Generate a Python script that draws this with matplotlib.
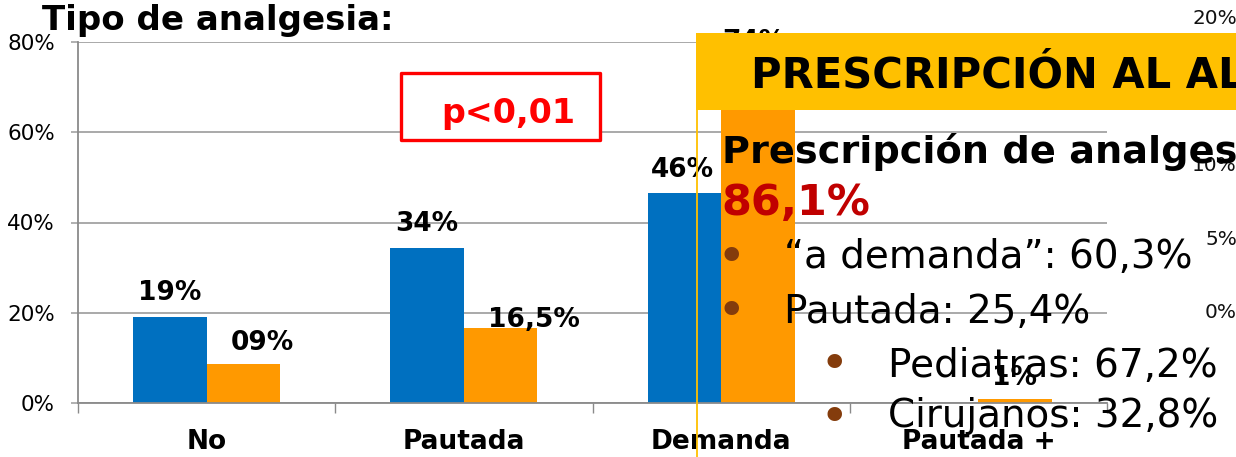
import matplotlib
matplotlib.use("Agg")
import matplotlib.pyplot as plt
import matplotlib.transforms as mtransforms
from matplotlib.patches import Rectangle
from matplotlib.lines import Line2D
import numpy as np

plt.rcParams['font.family'] = ['DejaVu Sans']

# ---------------- data ----------------
categories = ['No', 'Pautada', 'Demanda', 'Pautada +']
serie_azul = [19.0, 34.3, 46.5, 0.0]
serie_naranja = [8.7, 16.6, 74.0, 0.8]
etiquetas_azul = ['19%', '34%', '46%', '']
etiquetas_naranja = ['09%', '16,5%', '74%', '1%']
yticks = [0, 20, 40, 60, 80]
ytick_labels = ['0%', '20%', '40%', '60%', '80%']
# partially visible axis of a second chart at the right edge
yticks_derecha = [0, 5, 10, 20]
ytick_labels_derecha = ['0%', '5%', '10%', '20%']
bullets_1 = ['\u201ca demanda\u201d: 60,3%', 'Pautada: 25,4%']
bullets_2 = ['Pediatras: 67,2%', 'Cirujanos: 32,8%']

# ---------------- style ----------------
W, H = 1236, 457
C_BLUE = '#0070C0'
C_ORANGE = '#FF9900'
C_BANNER = '#FFC000'
C_GRID = '#A3A3A3'
C_AXIS = '#8A8A8A'
C_DARKRED = '#C00000'
C_BULLET = '#843C0C'

def fx(x):
    return x / W

def fy(y):
    return 1 - y / H

def px2pt(p):
    return p * 72.0 / 100.0

# label offsets (pixels): blue / orange
dx_azul = [0, 0, -2, 0]
dy_azul = [17, 17, 16, 0]
dx_naranja = [18.5, 33, -4, -1]
dy_naranja = [14, 1, 20, 14]

fig = plt.figure(figsize=(W / 100, H / 100), dpi=100)

# ---------------- main chart ----------------
ax = fig.add_axes([fx(78), fy(403), (1107 - 78) / W, (403 - 42) / H])
x = np.arange(len(categories))
w = 0.286
ax.bar(x - w / 2, serie_azul, w, color=C_BLUE, zorder=2)
ax.bar(x + w / 2, serie_naranja, w, color=C_ORANGE, zorder=2)
ax.set_xlim(-0.5, len(categories) - 0.5)
ax.set_ylim(0, 80)
ax.set_yticks(yticks)
ax.set_yticklabels(ytick_labels)
ax.set_xticks(np.arange(len(categories) + 1) - 0.5)
ax.set_xticklabels([])
ax.set_xticks(x, minor=True)
ax.set_xticklabels(categories, minor=True, fontweight='bold', fontsize=19)
ax.tick_params(axis='x', which='minor', length=0, pad=18.5)
ax.tick_params(axis='x', which='major', length=7.2, width=1.0, color=C_AXIS, direction='out')
ax.tick_params(axis='y', length=5, width=1.2, color=C_GRID, pad=11.5, labelsize=15.5)
ax.grid(axis='y', color=C_GRID, lw=1.3)
ax.set_axisbelow(True)
for s in ['top', 'right']:
    ax.spines[s].set_visible(False)
for s in ['left', 'bottom']:
    ax.spines[s].set_color(C_AXIS)
    ax.spines[s].set_linewidth(1.3)

for i in range(len(categories)):
    if etiquetas_azul[i]:
        ax.annotate(etiquetas_azul[i], (x[i] - w / 2, serie_azul[i]),
                    xytext=(px2pt(dx_azul[i]), px2pt(dy_azul[i])), textcoords='offset points',
                    ha='center', va='baseline', fontsize=19, fontweight='bold', zorder=3)
    if etiquetas_naranja[i]:
        ax.annotate(etiquetas_naranja[i], (x[i] + w / 2, serie_naranja[i]),
                    xytext=(px2pt(dx_naranja[i]), px2pt(dy_naranja[i])), textcoords='offset points',
                    ha='center', va='baseline', fontsize=19, fontweight='bold', zorder=3)

# ---------------- right-edge axis labels of hidden chart ----------------
ax2 = fig.add_axes([fx(1100), fy(313), (1237 - 1100) / W, (313 - 18) / H])
ax2.set_ylim(0, 20)
ax2.set_xlim(0, 1)
ax2.axis('off')
tr2 = mtransforms.blended_transform_factory(ax2.transAxes, ax2.transData)
for v, lab in zip(yticks_derecha, ytick_labels_derecha):
    ax2.text(1.0, v, lab, transform=tr2, ha='right', va='center', fontsize=14.4, color='#111111')

# ---------------- overlays ----------------
fig.text(fx(42), fy(30), 'Tipo de analgesia:', fontsize=24.5, fontweight='bold',
         ha='left', va='baseline')

# p-value box
fig.add_artist(Rectangle((fx(401), fy(140)), (600 - 401) / W, (140 - 73) / H,
                         transform=fig.transFigure, facecolor='white', edgecolor='#FF0000',
                         lw=2.4, joinstyle='round', zorder=2))
fig.text(fx(441), fy(123), 'p<0,01', color='#FF0000', fontsize=24, fontweight='bold',
         ha='left', va='baseline', zorder=3)

# banner
fig.add_artist(Rectangle((fx(696), fy(110)), (W + 10 - 696) / W, (110 - 33) / H,
                         transform=fig.transFigure, facecolor=C_BANNER, edgecolor='none', zorder=2))
fig.add_artist(Line2D([fx(697), fx(697)], [fy(110), fy(H + 5)], transform=fig.transFigure,
                      color=C_BANNER, lw=1.3, zorder=2))
fig.text(fx(751), fy(87), 'PRESCRIPCI\u00d3N AL ALTA', fontsize=30, fontweight='bold',
         ha='left', va='baseline', zorder=3)

fig.text(fx(722), fy(163), 'Prescripci\u00f3n de analgesia:', fontsize=27.5, fontweight='bold',
         ha='left', va='baseline', zorder=3)
fig.text(fx(721), fy(215), '86,1%', fontsize=31, fontweight='bold', color=C_DARKRED,
         ha='left', va='baseline', zorder=3)

# bullet lists
bullet_pt = 36
bullet_rise = 0.375 * bullet_pt * 100 / 72  # dot centre above baseline, px
for txt, base, cy in zip(bullets_1, [268, 323], [253, 307]):
    fig.text(fx(731), fy(cy + bullet_rise), '\u2022', fontsize=bullet_pt, color=C_BULLET,
             ha='center', va='baseline', zorder=3)
    fig.text(fx(784), fy(base), txt, fontsize=28, ha='left', va='baseline', zorder=3)
for txt, base, cy in zip(bullets_2, [377, 427], [360, 413]):
    fig.text(fx(834), fy(cy + bullet_rise), '\u2022', fontsize=bullet_pt, color=C_BULLET,
             ha='center', va='baseline', zorder=3)
    fig.text(fx(888), fy(base), txt, fontsize=28, ha='left', va='baseline', zorder=3)

fig.savefig('out.png', dpi=100)
